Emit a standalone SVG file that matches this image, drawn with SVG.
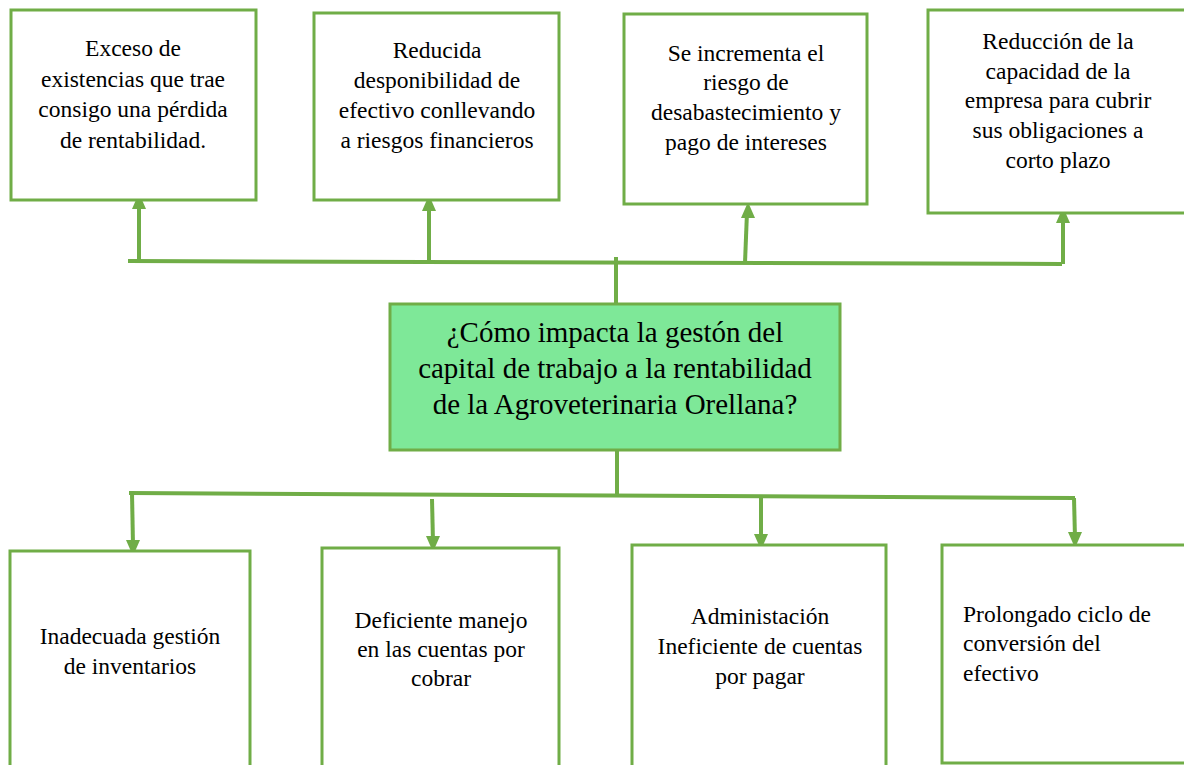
<svg xmlns="http://www.w3.org/2000/svg" width="1184" height="765" viewBox="0 0 1184 765">
<style>
.box{fill:#fff;stroke:#70ad47;stroke-width:3}
.main{fill:#7ee898;stroke:#70ad47;stroke-width:3}
.ln{stroke:#70ad47;stroke-width:4;fill:none}
.ah{fill:#70ad47}
text{font-family:"Liberation Serif","Times New Roman",serif;fill:#000}
.t{font-size:23.5px;text-anchor:middle}
.tl{font-size:23.5px;text-anchor:start}
.tm{font-size:29px;text-anchor:middle}
</style>
<rect width="1184" height="765" fill="#fff"/>
<g id="connectors">
<line class="ln" x1="128" y1="261" x2="1062" y2="264"/>
<line class="ln" x1="616" y1="303" x2="616" y2="257"/>
<line class="ln" x1="139" y1="262" x2="139" y2="205"/>
<polygon class="ah" points="139,193 132,209 146,209"/>
<line class="ln" x1="429" y1="262" x2="429" y2="205"/>
<polygon class="ah" points="429,195 422,211 436,211"/>
<line class="ln" x1="745" y1="263" x2="747" y2="212"/>
<polygon class="ah" points="748,202 741,218 755,218"/>
<line class="ln" x1="1063" y1="264" x2="1063" y2="218"/>
<polygon class="ah" points="1063,207 1056,223 1070,223"/>
<line class="ln" x1="617" y1="450" x2="617" y2="494"/>
<line class="ln" x1="129" y1="493" x2="1075" y2="498"/>
<line class="ln" x1="132" y1="493" x2="133" y2="545"/>
<polygon class="ah" points="133,556 126,540 140,540"/>
<line class="ln" x1="432" y1="499" x2="433" y2="542"/>
<polygon class="ah" points="433,552 426,536 440,536"/>
<line class="ln" x1="761" y1="497" x2="761" y2="540"/>
<polygon class="ah" points="761,550 754,534 768,534"/>
<line class="ln" x1="1074" y1="498" x2="1075" y2="538"/>
<polygon class="ah" points="1075,548 1068,532 1082,532"/>
</g>
<g id="top1">
<rect class="box" x="11" y="10" width="245" height="190"/>
<text class="t"><tspan x="133" y="56">Exceso de</tspan><tspan x="133" y="87">existencias que trae</tspan><tspan x="133" y="117">consigo una pérdida</tspan><tspan x="133" y="148">de rentabilidad.</tspan></text>
</g>
<g id="top2">
<rect class="box" x="314" y="13" width="245" height="187"/>
<text class="t"><tspan x="437" y="58">Reducida</tspan><tspan x="437" y="88">desponibilidad de</tspan><tspan x="437" y="118">efectivo conllevando</tspan><tspan x="437" y="148">a riesgos financieros</tspan></text>
</g>
<g id="top3">
<rect class="box" x="624" y="14" width="243" height="190"/>
<text class="t"><tspan x="746" y="61">Se incrementa el</tspan><tspan x="746" y="90">riesgo de</tspan><tspan x="746" y="120">desabastecimiento y</tspan><tspan x="746" y="150">pago de intereses</tspan></text>
</g>
<g id="top4">
<rect class="box" x="928" y="10" width="260" height="203"/>
<text class="t"><tspan x="1058" y="49">Reducción de la</tspan><tspan x="1058" y="79">capacidad de la</tspan><tspan x="1058" y="108">empresa para cubrir</tspan><tspan x="1058" y="138">sus obligaciones a</tspan><tspan x="1058" y="168">corto plazo</tspan></text>
</g>
<g id="center">
<rect class="main" x="390" y="304" width="450" height="146"/>
<text class="tm"><tspan x="615" y="342">¿Cómo impacta la gestón del</tspan><tspan x="615" y="378">capital de trabajo a la rentabilidad</tspan><tspan x="615" y="414">de la Agroveterinaria Orellana?</tspan></text>
</g>
<g id="bot1">
<rect class="box" x="10" y="551" width="240" height="220"/>
<text class="t"><tspan x="130" y="644">Inadecuada gestión</tspan><tspan x="130" y="674">de inventarios</tspan></text>
</g>
<g id="bot2">
<rect class="box" x="322" y="548" width="237" height="223"/>
<text class="t"><tspan x="441" y="628">Deficiente manejo</tspan><tspan x="441" y="657">en las cuentas por</tspan><tspan x="441" y="686">cobrar</tspan></text>
</g>
<g id="bot3">
<rect class="box" x="632" y="545" width="254" height="226"/>
<text class="t"><tspan x="760" y="624">Administación</tspan><tspan x="760" y="654">Ineficiente de cuentas</tspan><tspan x="760" y="684">por pagar</tspan></text>
</g>
<g id="bot4">
<rect class="box" x="942" y="545" width="246" height="218"/>
<text class="tl"><tspan x="963" y="622">Prolongado ciclo de</tspan><tspan x="963" y="651">conversión del</tspan><tspan x="963" y="681">efectivo</tspan></text>
</g>
</svg>
